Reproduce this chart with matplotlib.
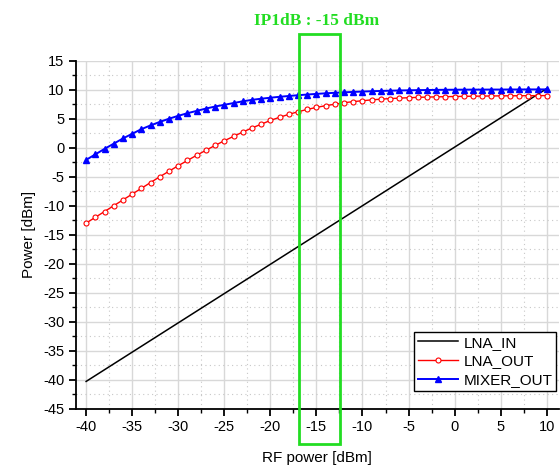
import matplotlib
matplotlib.use("Agg")
import matplotlib.pyplot as plt
from matplotlib.ticker import MultipleLocator
from matplotlib.patches import Rectangle

plt.rcParams['font.family'] = ['Liberation Sans', 'DejaVu Sans']
plt.rcParams['axes.unicode_minus'] = False

rf_power = list(range(-40, 11))

lna_in = [-40.3, -39.29, -38.28, -37.27, -36.26, -35.25, -34.24, -33.23, -32.22, -31.21,
          -30.2, -29.19, -28.18, -27.17, -26.16, -25.15, -24.14, -23.13, -22.12, -21.11,
          -20.1, -19.09, -18.08, -17.07, -16.06, -15.05, -14.04, -13.03, -12.02, -11.01,
          -10.0, -8.99, -7.98, -6.97, -5.96, -4.95, -3.94, -2.93, -1.92, -0.91,
          0.1, 1.11, 2.12, 3.13, 4.14, 5.15, 6.16, 7.17, 8.18, 9.19, 10.2]

lna_out = [-13.0, -12.0, -11.0, -10.0, -9.0, -8.0, -7.0, -6.0, -5.0, -4.05,
           -3.1, -2.2, -1.3, -0.45, 0.4, 1.2, 1.95, 2.7, 3.4, 4.05,
           4.7, 5.25, 5.75, 6.2, 6.6, 6.95, 7.25, 7.5, 7.75, 7.95,
           8.1, 8.25, 8.37, 8.47, 8.55, 8.62, 8.68, 8.73, 8.77, 8.8,
           8.83, 8.86, 8.88, 8.9, 8.92, 8.94, 8.95, 8.96, 8.97, 8.98, 8.99]

mixer_out = [-2.1, -1.15, -0.2, 0.7, 1.6, 2.4, 3.2, 3.85, 4.45, 5.0,
             5.5, 5.95, 6.35, 6.75, 7.1, 7.4, 7.7, 8.0, 8.25, 8.45,
             8.62, 8.78, 8.92, 9.05, 9.17, 9.28, 9.38, 9.47, 9.55, 9.62,
             9.68, 9.74, 9.79, 9.83, 9.87, 9.9, 9.93, 9.95, 9.97, 9.99,
             10.0, 10.01, 10.02, 10.02, 10.03, 10.03, 10.04, 10.04, 10.05, 10.05, 10.06]

series_names = ["LNA_IN", "LNA_OUT", "MIXER_OUT"]
title_text = "IP1dB : -15 dBm"
x_label = "RF power [dBm]"
y_label = "Power [dBm]"
ip1db_band = (-16.9, -12.4)

fig = plt.figure(figsize=(5.6, 4.66), dpi=100)
ax = fig.add_axes([0.1357, 0.123, 0.862, 0.7467])

ax.plot(rf_power, lna_in, color='black', lw=1.1, label=series_names[0])
ax.plot(rf_power, lna_out, color='red', lw=1.0, marker='o', ms=3.6,
        mfc='white', mec='red', mew=0.8, label=series_names[1])
ax.plot(rf_power, mixer_out, color='blue', lw=1.4, marker='^', ms=4.2,
        mfc='blue', mec='blue', label=series_names[2])

ax.set_xlim(-41.1, 11.3)
ax.set_ylim(-45, 15)
ax.xaxis.set_major_locator(MultipleLocator(5))
ax.xaxis.set_minor_locator(MultipleLocator(2.5))
ax.yaxis.set_major_locator(MultipleLocator(5))
ax.yaxis.set_minor_locator(MultipleLocator(2.5))
ax.grid(which='major', color='#d8d8d8', lw=1.0, ls='-')
ax.grid(which='minor', color='#c8c8c8', lw=0.8, ls=(0, (1, 3)))
ax.set_axisbelow(True)

for s in ['top', 'right']:
    ax.spines[s].set_visible(False)
for s in ['left', 'bottom']:
    ax.spines[s].set_linewidth(1.3)
ax.tick_params(which='major', direction='out', length=5, width=1.3, labelsize=10.5, colors='black')
ax.tick_params(which='minor', direction='out', length=3, width=1.0)

ax.set_xlabel(x_label, fontsize=11, labelpad=12)
ax.set_ylabel(y_label, fontsize=11, labelpad=5)

rect = Rectangle((ip1db_band[0], -51.1), ip1db_band[1] - ip1db_band[0], 70.7,
                 fill=False, edgecolor='#22dd22', lw=2.0, clip_on=False, zorder=5)
ax.add_patch(rect)
ax.text((ip1db_band[0] + ip1db_band[1]) / 2 - 0.3, 20.5, title_text, color='#22dd22',
        fontsize=12.5, fontweight='bold', family=['Liberation Serif', 'DejaVu Serif'],
        ha='center', va='bottom', clip_on=False)

leg = ax.legend(loc='upper left', bbox_to_anchor=(414 / 560, 1 - 332 / 466),
                bbox_transform=fig.transFigure, fontsize=11, frameon=True,
                fancybox=False, edgecolor='black', framealpha=1,
                handlelength=2.6, borderpad=0.25, labelspacing=0.3,
                handletextpad=0.4, borderaxespad=0)
leg.get_frame().set_linewidth(1.0)

fig.savefig('out.png', dpi=100)
